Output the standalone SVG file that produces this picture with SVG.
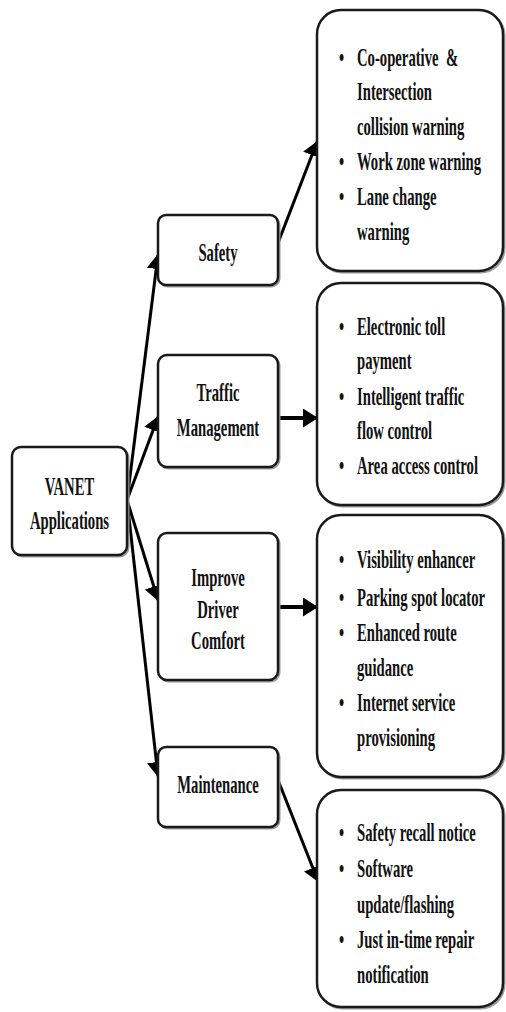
<svg xmlns="http://www.w3.org/2000/svg" width="506" height="1012" viewBox="0 0 506 1012">
<style>
.box{fill:#fff;stroke:#1a1a1a;stroke-width:2.5}
.sh{fill:none;stroke:#9a9a9a;stroke-width:2}
.t{font-family:"Liberation Serif","Times New Roman",serif;font-weight:bold;font-size:26px;fill:#111}
.c{text-anchor:middle}
.ln{stroke:#000;stroke-width:3;fill:none;marker-end:url(#ah)}
.lh{stroke:#000;stroke-width:4;fill:none;marker-end:url(#ah)}
</style>
<defs>
<marker id="ah" markerUnits="userSpaceOnUse" markerWidth="16" markerHeight="20" refX="14" refY="9.5" orient="auto">
<path d="M0,0 L15,9.5 L0,19 z" fill="#000"/>
</marker>
</defs>
<g id="connectors">
<line class="ln" x1="127" y1="500" x2="158" y2="255"/>
<line class="ln" x1="127" y1="500" x2="158" y2="417"/>
<line class="ln" x1="127" y1="500" x2="158" y2="600"/>
<line class="ln" x1="127" y1="500" x2="158" y2="776"/>
<line class="ln" x1="278" y1="243" x2="317" y2="142"/>
<line class="lh" x1="278" y1="418" x2="317" y2="418"/>
<line class="lh" x1="278" y1="607" x2="317" y2="607"/>
<line class="ln" x1="278" y1="780" x2="318" y2="881"/>
</g>
<g id="vanet">
<rect class="sh" x="13.5" y="448.5" width="115" height="108" rx="9"/>
<rect class="box" x="12" y="447" width="115" height="108" rx="9"/>
<text class="t c" transform="translate(69.5,495) scale(0.565,1)">VANET</text>
<text class="t c" transform="translate(69.5,529) scale(0.565,1)">Applications</text>
</g>
<g id="safety">
<rect class="sh" x="159.5" y="216.5" width="120" height="70" rx="8"/>
<rect class="box" x="158" y="215" width="120" height="70" rx="8"/>
<text class="t c" transform="translate(218,261) scale(0.565,1)">Safety</text>
</g>
<g id="traffic">
<rect class="sh" x="159.5" y="356.5" width="120" height="112" rx="9"/>
<rect class="box" x="158" y="355" width="120" height="112" rx="9"/>
<text class="t c" transform="translate(218,401) scale(0.565,1)">Traffic</text>
<text class="t c" transform="translate(218,436) scale(0.565,1)">Management</text>
</g>
<g id="comfort">
<rect class="sh" x="159.5" y="534.5" width="120" height="147" rx="9"/>
<rect class="box" x="158" y="533" width="120" height="147" rx="9"/>
<text class="t c" transform="translate(218,586) scale(0.565,1)">Improve</text>
<text class="t c" transform="translate(218,618) scale(0.565,1)">Driver</text>
<text class="t c" transform="translate(218,649) scale(0.565,1)">Comfort</text>
</g>
<g id="maintenance">
<rect class="sh" x="159.5" y="748.5" width="120" height="80" rx="8"/>
<rect class="box" x="158" y="747" width="120" height="80" rx="8"/>
<text class="t c" transform="translate(218,793) scale(0.565,1)">Maintenance</text>
</g>
<g id="safety-list">
<rect class="sh" x="318.5" y="11.5" width="186" height="261" rx="24"/>
<rect class="box" x="317" y="10" width="186" height="261" rx="24"/>
<text class="t" transform="translate(339,66) scale(0.565,1)">•</text>
<text class="t" transform="translate(357,66) scale(0.565,1)" xml:space="preserve">Co-operative  &amp;</text>
<text class="t" transform="translate(357,100) scale(0.565,1)">Intersection</text>
<text class="t" transform="translate(357,135) scale(0.565,1)">collision warning</text>
<text class="t" transform="translate(339,170) scale(0.565,1)">•</text>
<text class="t" transform="translate(357,170) scale(0.565,1)">Work zone warning</text>
<text class="t" transform="translate(339,205) scale(0.565,1)">•</text>
<text class="t" transform="translate(357,205) scale(0.565,1)">Lane change</text>
<text class="t" transform="translate(357,240) scale(0.565,1)">warning</text>
</g>
<g id="traffic-list">
<rect class="sh" x="318.5" y="284.5" width="186" height="222" rx="24"/>
<rect class="box" x="317" y="283" width="186" height="222" rx="24"/>
<text class="t" transform="translate(339,335) scale(0.565,1)">•</text>
<text class="t" transform="translate(357,335) scale(0.565,1)">Electronic toll</text>
<text class="t" transform="translate(357,369) scale(0.565,1)">payment</text>
<text class="t" transform="translate(339,405) scale(0.565,1)">•</text>
<text class="t" transform="translate(357,405) scale(0.565,1)">Intelligent traffic</text>
<text class="t" transform="translate(357,439) scale(0.565,1)">flow control</text>
<text class="t" transform="translate(339,474) scale(0.565,1)">•</text>
<text class="t" transform="translate(357,474) scale(0.565,1)">Area access control</text>
</g>
<g id="comfort-list">
<rect class="sh" x="318.5" y="516.5" width="186" height="262" rx="24"/>
<rect class="box" x="317" y="515" width="186" height="262" rx="24"/>
<text class="t" transform="translate(339,568) scale(0.565,1)">•</text>
<text class="t" transform="translate(357,568) scale(0.565,1)">Visibility enhancer</text>
<text class="t" transform="translate(339,606) scale(0.565,1)">•</text>
<text class="t" transform="translate(357,606) scale(0.565,1)">Parking spot locator</text>
<text class="t" transform="translate(339,641) scale(0.565,1)">•</text>
<text class="t" transform="translate(357,641) scale(0.565,1)">Enhanced route</text>
<text class="t" transform="translate(357,676) scale(0.565,1)">guidance</text>
<text class="t" transform="translate(339,711) scale(0.565,1)">•</text>
<text class="t" transform="translate(357,711) scale(0.565,1)">Internet service</text>
<text class="t" transform="translate(357,746) scale(0.565,1)">provisioning</text>
</g>
<g id="maintenance-list">
<rect class="sh" x="318.5" y="791.5" width="186" height="217" rx="24"/>
<rect class="box" x="317" y="790" width="186" height="217" rx="24"/>
<text class="t" transform="translate(339,841) scale(0.565,1)">•</text>
<text class="t" transform="translate(357,841) scale(0.565,1)">Safety recall notice</text>
<text class="t" transform="translate(339,877) scale(0.565,1)">•</text>
<text class="t" transform="translate(357,877) scale(0.565,1)">Software</text>
<text class="t" transform="translate(357,913) scale(0.565,1)">update/flashing</text>
<text class="t" transform="translate(339,948) scale(0.565,1)">•</text>
<text class="t" transform="translate(357,948) scale(0.565,1)">Just in-time repair</text>
<text class="t" transform="translate(357,983) scale(0.565,1)">notification</text>
</g>
</svg>
